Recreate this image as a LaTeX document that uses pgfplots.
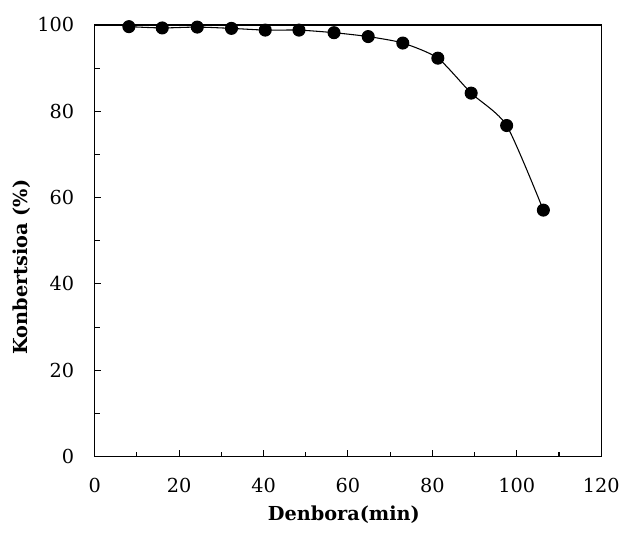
\documentclass[border=0pt]{standalone}
\usepackage{pgfplots}
\pgfplotsset{compat=1.18}
\usepackage{fontspec}
\setmainfont{DejaVu Serif}
\begin{document}
\begin{tikzpicture}
\begin{axis}[
  scale only axis,
  width=381pt, height=324.75pt,
  xmin=0, xmax=120, ymin=0, ymax=100,
  xtick={0,20,...,120}, ytick={0,20,...,100},
  minor xtick={10,30,...,110}, minor ytick={10,30,...,90},
  tick align=inside,
  major tick length=5pt, minor tick length=3.75pt,
  xtick pos=bottom, ytick pos=left,
  axis line style={line width=1pt},
  every tick/.style={black, line width=0.8pt},
  /pgf/number format/assume math mode=true,
  tick label style={font=\fontsize{14.5}{16}\selectfont},
  yticklabel style={xshift=-12pt},
  xticklabel style={yshift=-13pt},
  xlabel={\textbf{Denbora(min)}},
  ylabel={\textbf{Konbertsioa (\%)}},
  label style={font=\fontsize{14.5}{16}\selectfont},
  xlabel style={at={(axis description cs:0.492,-0.135)}, anchor=center},
  ylabel style={at={(axis description cs:-0.144,0.439)}, anchor=center},
]
\addplot[black, line width=0.8pt, smooth, tension=0.4, mark=*, mark size=4.5pt, mark options={fill=black}]
coordinates {
(8.1,99.6) (16.0,99.3) (24.3,99.5) (32.4,99.2) (40.4,98.8) (48.4,98.8)
(56.7,98.2) (64.8,97.3) (73.0,95.8) (81.3,92.3) (89.2,84.2) (97.6,76.7) (106.3,57.1)
};
\end{axis}
\path (current axis.south west) ++(-71.25pt,-58.5pt) coordinate (bbA);
\path (current axis.north east) ++(15.75pt,18.75pt) coordinate (bbB);
\useasboundingbox (bbA) rectangle (bbB);
\end{tikzpicture}
\end{document}
